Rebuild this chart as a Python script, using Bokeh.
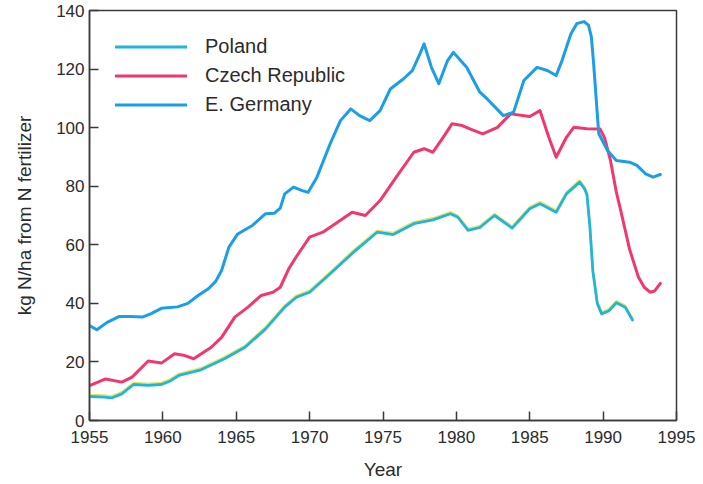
from bokeh.plotting import figure
from bokeh.models import Range1d, FixedTicker, Legend, LegendItem, ColumnDataSource
from bokeh.transform import dodge
from bokeh.embed import file_html
from bokeh.resources import INLINE

# ---- data (kg N/ha from N fertilizer) ----
years_poland = [1955.0, 1956.0, 1956.5, 1957.2, 1958.0, 1959.0, 1959.9, 1960.5, 1961.1, 1962.6,
                1964.2, 1965.6, 1967.0, 1968.3, 1969.1, 1970.0, 1971.4, 1973.0, 1974.6, 1975.7,
                1977.1, 1978.4, 1979.6, 1980.1, 1980.8, 1981.6, 1982.6, 1983.8, 1985.0, 1985.7,
                1986.8, 1987.5, 1988.4, 1988.75, 1988.9, 1989.1, 1989.3, 1989.6, 1989.9, 1990.4,
                1990.9, 1991.5, 1992.0]
poland = [8.2, 8.0, 7.7, 9.1, 12.3, 12.0, 12.3, 13.5, 15.4, 17.3,
          21.1, 25.0, 31.3, 38.7, 42.1, 43.8, 50.1, 57.5, 64.3, 63.5,
          67.2, 68.5, 70.6, 69.4, 64.9, 65.9, 70.0, 65.7, 72.3, 74.0,
          71.1, 77.4, 81.4, 79.0, 77.0, 66.0, 51.0, 40.0, 36.4, 37.5,
          40.2, 38.7, 34.3]

years_czech = [1955.0, 1956.1, 1957.2, 1957.9, 1959.0, 1959.9, 1960.8, 1961.4, 1962.1, 1963.3,
               1964.0, 1964.9, 1965.8, 1966.7, 1967.5, 1968.0, 1968.6, 1969.1, 1970.0, 1970.9,
               1971.9, 1972.9, 1973.8, 1974.8, 1975.9, 1977.1, 1977.8, 1978.4, 1979.1, 1979.7,
               1980.4, 1981.0, 1981.8, 1982.8, 1983.7, 1985.0, 1985.7, 1986.3, 1986.8, 1987.5,
               1988.0, 1988.9, 1989.8, 1990.1, 1990.5, 1990.9, 1991.2, 1991.8, 1992.4, 1992.8,
               1993.2, 1993.5, 1993.9]
czech = [11.9, 14.2, 13.1, 14.8, 20.3, 19.6, 22.8, 22.3, 21.1, 25.0,
         28.4, 35.3, 38.7, 42.7, 43.8, 45.5, 52.0, 56.0, 62.6, 64.3,
         67.7, 71.1, 70.0, 75.1, 83.1, 91.6, 92.8, 91.6, 96.7, 101.3,
         100.7, 99.4, 97.9, 100.1, 104.7, 103.8, 105.8, 96.7, 89.9, 96.7,
         100.1, 99.6, 99.5, 96.5, 88.8, 78.0, 71.7, 58.5, 49.0, 45.5,
         43.8, 44.2, 46.8]

years_egermany = [1955.0, 1955.5, 1956.2, 1957.0, 1957.8, 1958.6, 1959.2, 1959.9, 1961.0, 1961.7,
                  1962.4, 1963.1, 1963.6, 1964.0, 1964.5, 1965.1, 1966.1, 1967.0, 1967.6, 1968.0,
                  1968.3, 1968.9, 1969.5, 1969.9, 1970.5, 1971.4, 1972.1, 1972.8, 1973.4, 1974.1,
                  1974.8, 1975.5, 1976.4, 1977.0, 1977.5, 1977.8, 1978.3, 1978.8, 1979.4, 1979.8,
                  1980.7, 1981.6, 1982.1, 1983.2, 1983.9, 1984.6, 1985.5, 1986.2, 1986.8, 1987.2,
                  1987.8, 1988.2, 1988.7, 1989.0, 1989.2, 1989.35, 1989.7, 1990.3, 1990.9, 1991.8,
                  1992.3, 1992.9, 1993.4, 1993.9]
egermany = [32.4, 31.0, 33.5, 35.5, 35.5, 35.3, 36.5, 38.3, 38.8, 40.0,
            42.7, 45.0, 47.5, 51.2, 59.2, 63.7, 66.6, 70.6, 70.8, 72.5,
            77.4, 79.7, 78.5, 77.9, 83.1, 94.5, 102.4, 106.4, 104.1, 102.4,
            105.8, 113.2, 116.7, 119.5, 125.0, 128.6, 120.6, 115.0, 122.9, 125.7,
            120.6, 112.1, 109.8, 104.1, 105.3, 116.1, 120.6, 119.5, 117.8, 122.9,
            132.0, 135.5, 136.2, 135.0, 131.0, 122.0, 98.0, 92.2, 88.8, 88.2,
            87.1, 84.2, 83.1, 84.0]

series_names = ["Poland", "Czech Republic", "E. Germany"]
series_colors = ["#1fb6da", "#f1386c", "#1a9ee6"]
poland_fringe = "#e4df3a"

x_ticks = [1955, 1960, 1965, 1970, 1975, 1980, 1985, 1990, 1995]
y_ticks = [0, 20, 40, 60, 80, 100, 120, 140]

FONT = "Liberation Sans"
TEXT = "#2b2b2b"
AXC = "#3a3a3a"

p = figure(width=700, height=482, output_backend="svg", toolbar_location=None,
           x_range=Range1d(1955, 1995), y_range=Range1d(0, 140),
           min_border_left=89, min_border_right=24, min_border_top=10, min_border_bottom=62)
p.grid.visible = False
p.background_fill_color = "white"
p.border_fill_color = "white"
p.outline_line_color = AXC
p.outline_line_width = 1.5

for ax in (p.xaxis[0], p.yaxis[0]):
    ax.axis_line_color = AXC
    ax.axis_line_width = 1.5
    ax.major_tick_in = 9
    ax.major_tick_out = 0
    ax.major_tick_line_color = AXC
    ax.major_tick_line_width = 1.5
    ax.minor_tick_line_color = None
    ax.major_label_text_font = FONT
    ax.major_label_text_font_size = "17px"
    ax.major_label_text_color = TEXT
    ax.axis_label_text_font = FONT
    ax.axis_label_text_font_style = "normal"
    ax.axis_label_text_color = TEXT

p.xaxis.ticker = FixedTicker(ticks=x_ticks)
p.yaxis.ticker = FixedTicker(ticks=y_ticks)
p.xaxis.major_label_standoff = 10
p.yaxis.major_label_standoff = 5
p.xaxis.axis_label = "Year"
p.xaxis.axis_label_text_font_size = "19px"
p.xaxis.axis_label_standoff = 13
p.yaxis.axis_label = "kg N/ha from N fertilizer"
p.yaxis.axis_label_text_font_size = "19px"
p.yaxis.axis_label_standoff = 18

src_pl = ColumnDataSource(dict(year=years_poland, value=poland))
p.line(x="year", y=dodge("value", 0.55), source=src_pl, line_color=poland_fringe,
       line_width=2.4, line_alpha=0.8, line_join="round", line_cap="round")
r_pl = p.line(x="year", y="value", source=src_pl, line_color=series_colors[0], line_width=2.8,
              line_join="round", line_cap="round")
r_cz = p.line(years_czech, czech, line_color=series_colors[1], line_width=3, line_join="round", line_cap="round")
r_eg = p.line(years_egermany, egermany, line_color=series_colors[2], line_width=3, line_join="round", line_cap="round")

legend = Legend(items=[LegendItem(label=series_names[0], renderers=[r_pl]),
                       LegendItem(label=series_names[1], renderers=[r_cz]),
                       LegendItem(label=series_names[2], renderers=[r_eg])],
                location=(26, 301), margin=0, padding=0, spacing=0,
                glyph_width=72, glyph_height=29, label_height=29, label_standoff=18,
                label_text_font=FONT, label_text_font_size="20px", label_text_color=TEXT,
                border_line_color=None, background_fill_alpha=0)
p.add_layout(legend)

open("out.html", "w").write(file_html(p, INLINE))
